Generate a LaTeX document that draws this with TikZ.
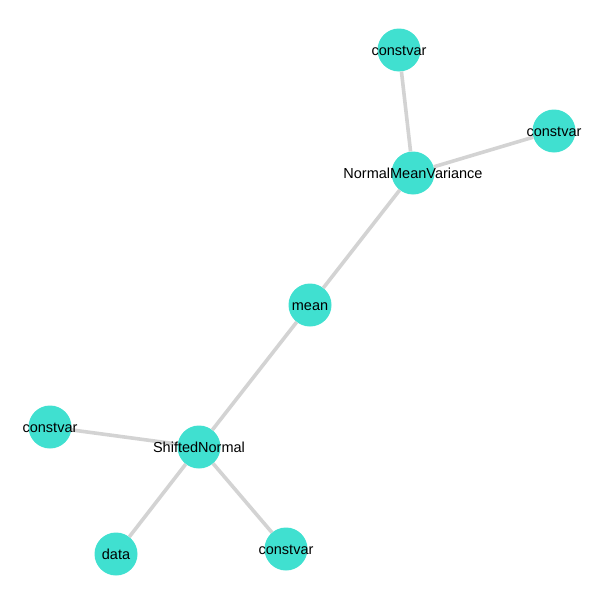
\documentclass[tikz,border=0pt]{standalone}
\usepackage{fontspec}
\setmainfont{Liberation Sans}
\usepackage{tikz}
\definecolor{turq}{RGB}{64,224,208}
\definecolor{edgegray}{RGB}{211,211,211}
\tikzset{
  bubble/.style={shape=circle,draw=none,fill=turq,inner sep=0pt,minimum size=43pt},
  bubbletext/.style={draw=none,fill=none,inner sep=0pt,anchor=base,yshift=-5pt,font=\fontsize{14.5}{17}\selectfont},
  link/.style={draw=edgegray,line width=3.6pt}
}
\newcommand{\bubblenode}[3]{\node[bubble] (#1) at ( #2 , #3 ) {};}
\newcommand{\bubblelabl}[2]{\node[bubbletext] (#1txt) at (#1.center) {#2};}
\newcommand{\link}[2]{\draw[link] (#1) -- (#2);}
\begin{document}
\begin{tikzpicture}[x=1pt,y=-1pt]
        \useasboundingbox (0,0) rectangle (605,605);
        % circles
        \bubblenode{cvtop}{399}{50}
        \bubblenode{cvright}{554}{131}
        \bubblenode{nmv}{413}{173}
        \bubblenode{mean}{310}{305}
        \bubblenode{sn}{199}{447}
        \bubblenode{cvleft}{50}{427}
        \bubblenode{data}{116}{554}
        \bubblenode{cvbottom}{286}{549}

        % links
        \link{nmv}{cvtop}
        \link{nmv}{cvright}
        \link{nmv}{mean}
        \link{mean}{sn}
        \link{sn}{cvleft}
        \link{sn}{data}
        \link{sn}{cvbottom}

        % labels
        \bubblelabl{cvtop}{constvar}
        \bubblelabl{cvright}{constvar}
        \bubblelabl{nmv}{NormalMeanVariance}
        \bubblelabl{mean}{mean}
        \bubblelabl{sn}{ShiftedNormal}
        \bubblelabl{cvleft}{constvar}
        \bubblelabl{data}{data}
        \bubblelabl{cvbottom}{constvar}
\end{tikzpicture}
\end{document}
